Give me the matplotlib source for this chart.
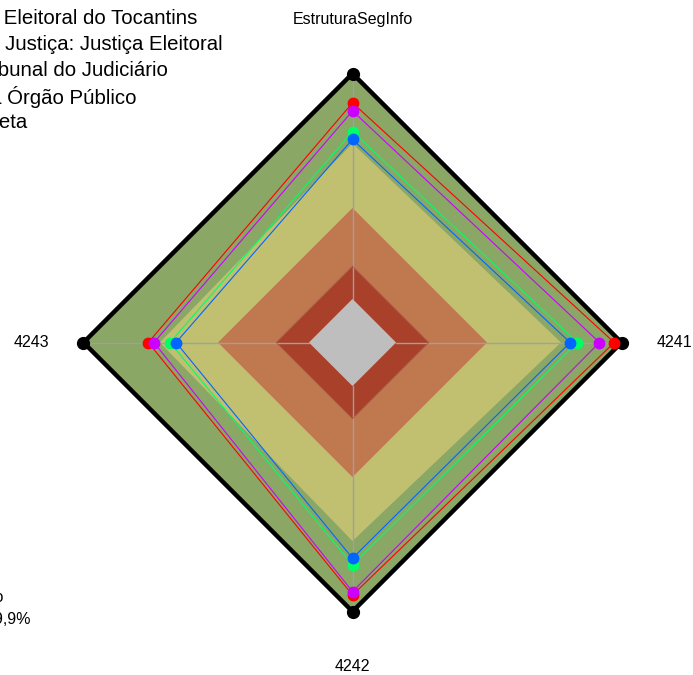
"""
Radar chart (fmsb style) of information security structure indicators.
Saves out.png at 693x675 px.
"""
import numpy as np
import matplotlib.pyplot as plt

plt.rcParams['font.family'] = ['Liberation Sans', 'DejaVu Sans']

# axes, clockwise from top
AXES = ['EstruturaSegInfo', '4241', '4242', '4243']

# values as share of the outer ring (Meta = 1)
SERIES = [
    'Tribunal Regional Eleitoral do Tocantins',
    'Segmento de Justiça: Justiça Eleitoral',
    'Média Tribunal do Judiciário',
    'Média Órgão Público',
    'Meta',
]
tre_to = [0.891, 0.973, 0.939, 0.759]
segmento = [0.861, 0.918, 0.926, 0.738]
tribunal = [0.784, 0.836, 0.827, 0.678]
orgao = [0.755, 0.809, 0.802, 0.656]
meta = [1.0, 1.0, 1.0, 1.0]

# background bands (outer radius per axis)
BANDS = [
    [1.0, 1.0, 1.0, 1.0],
    [0.74, 0.775, 0.738, 0.716],
    [0.5, 0.5, 0.5, 0.5],
    [0.284, 0.284, 0.284, 0.284],
    [0.162, 0.162, 0.162, 0.162],
]
BAND_COLORS = ['#8aa766', '#c0c070', '#c0784f', '#a8402a', '#bebebe']

NOTE = ['Índice de Segurança da Informação', 'Resultado: 89,9%']

SERIES_COLORS = ['#ff0000', '#cc00ff', '#00ff66', '#0066ff', '#000000']

ANGLES = np.pi / 2 - np.arange(len(AXES)) * 2 * np.pi / len(AXES)


def xy(values):
    v = np.asarray(values)
    x = v * np.cos(ANGLES)
    y = v * np.sin(ANGLES)
    return np.append(x, x[0]), np.append(y, y[0])


W, H, DPI = 693, 675, 100
CX, CY, R = 352.5, 342.5, 269.0   # centre and outer radius in pixels

fig = plt.figure(figsize=(W / DPI, H / DPI), dpi=DPI)
ax = fig.add_axes([0, 0, 1, 1])
ax.set_xlim(-CX / R, (W - CX) / R)
ax.set_ylim(-(H - CY) / R, CY / R)
ax.axis('off')

# background diamonds
for r, c in zip(BANDS, BAND_COLORS):
    bx, by = xy(r)
    ax.fill(bx, by, color=c, lw=0, zorder=1)

# axis spokes from the inner hole outwards
hole = BANDS[-1][0]
for a in ANGLES:
    ax.plot([hole * np.cos(a), np.cos(a)], [hole * np.sin(a), np.sin(a)],
            color='#a0a0a0', lw=1, zorder=2)
bx, by = xy(BANDS[-2])
ax.plot(bx, by, color='#b06050', lw=0.6, zorder=2)

# series: Meta underneath, then the others
data = [tre_to, segmento, tribunal, orgao, meta]
order = [4, 0, 1, 2, 3]
for i in order:
    px, py = xy(data[i])
    if i == 4:
        ax.plot(px, py, color='black', lw=3.2, zorder=3)
        ax.plot(px[:-1], py[:-1], 'o', color='black', ms=8.5, zorder=3)
    else:
        ax.plot(px, py, color=SERIES_COLORS[i], lw=0.8, zorder=4 + i)
        ax.plot(px[:-1], py[:-1], 'o', color=SERIES_COLORS[i], ms=7.5,
                zorder=4 + i)

# axis labels
ax.text(0, 1.20, AXES[0], ha='center', va='center', fontsize=11.5)
ax.text(1.195, 0, AXES[1], ha='center', va='center', fontsize=11.5)
ax.text(0, -1.205, AXES[2], ha='center', va='center', fontsize=11.5)
ax.text(-1.195, 0, AXES[3], ha='center', va='center', fontsize=11.5)

# legend, cut off at the left edge as in the original layout
legend_right = [197, 223, 168, 137, 28]
for k, (lab, xr) in enumerate(zip(SERIES, legend_right)):
    fig.text(xr / W, 1 - (19 + 26 * k) / H, lab, ha='right', va='center',
             fontsize=14.7)

fig.text(3 / W, 1 - 596 / H, NOTE[0], ha='right', va='center', fontsize=11.5)
fig.text(31 / W, 1 - 619 / H, NOTE[1], ha='right', va='center', fontsize=11.5)

fig.savefig('out.png', dpi=DPI)
